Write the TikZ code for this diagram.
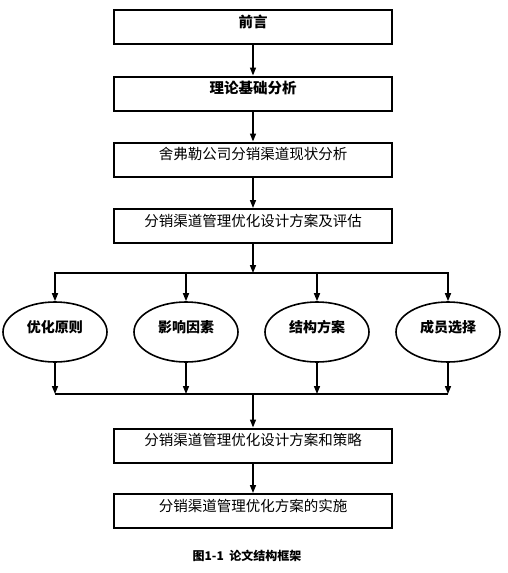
\documentclass[tikz,border=0pt]{standalone}
\usepackage{fontspec}
\newfontfamily\cjk{Noto Sans CJK SC}
\usetikzlibrary{shapes.geometric,arrows.meta}
\begin{document}
\begin{tikzpicture}[x=1pt,y=-1pt,
  box/.style={draw,line width=2pt,minimum width=278pt,minimum height=34pt,inner sep=0pt,
    font=\cjk\fontsize{14.5}{16}\selectfont,text height=8pt,text depth=8pt},
  heavy/.style={font=\cjk\bfseries\fontsize{14.5}{16}\selectfont},
  oval/.style={draw,ellipse,line width=1.6pt,minimum width=104pt,minimum height=60pt,inner sep=0pt,
    font=\cjk\bfseries\fontsize{14}{16}\selectfont,text height=8pt,text depth=8pt},
  arr/.style={line width=1.5pt,-{Triangle[length=8pt,width=6pt]}},
  ln/.style={line width=1.5pt}]
\useasboundingbox (0,0) rectangle (508,573);
\node[box,heavy] (b1) at (253,27) {前言};
\node[box,heavy] (b2) at (253,93.5) {理论基础分析};
\node[box] (b3) at (253,159.5) {舍弗勒公司分销渠道现状分析};
\node[box] (b4) at (253,226) {分销渠道管理优化设计方案及评估};
\node[oval] (e1) at (55,332) {优化原则};
\node[oval] (e2) at (186,332) {影响因素};
\node[oval] (e3) at (317,332) {结构方案};
\node[oval] (e4) at (448,332) {成员选择};
\node[box] (b5) at (253,445.5) {分销渠道管理优化设计方案和策略};
\node[box] (b6) at (253,511) {分销渠道管理优化方案的实施};
\node[font=\cjk\bfseries\fontsize{12}{14}\selectfont] (cap) at (247,556) {图1-1\ \ 论文结构框架};
\coordinate (split) at (253,273);
\coordinate (join) at (253,394);
\draw[arr] (b1) -- (b2);
\draw[arr] (b2) -- (b3);
\draw[arr] (b3) -- (b4);
\draw[arr] (b4) -- (split);
\foreach \e in {e1,e2,e3,e4} {\draw[arr] (split) -| (\e.north);}
\foreach \e in {e1,e2,e3,e4} {\draw[arr] (\e.south) -- (\e.south |- join);}
\draw[ln] (e1.south |- join) -- (e4.south |- join);
\draw[arr] (join) -- (b5);
\draw[arr] (b5) -- (b6);
\end{tikzpicture}
\end{document}
